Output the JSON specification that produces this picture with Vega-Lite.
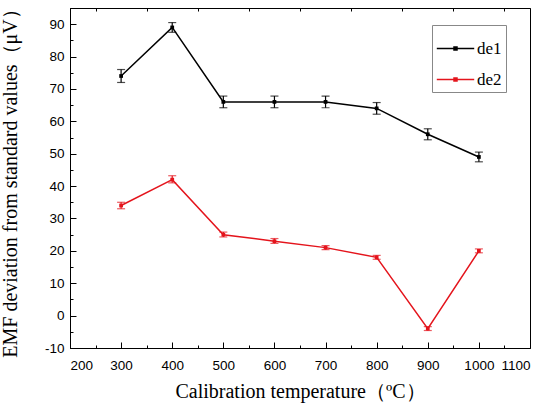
{
  "$schema": "https://vega.github.io/schema/vega-lite/v6.json",
  "width": 460,
  "height": 340,
  "autosize": {"type": "none"},
  "padding": {"left": 70, "top": 8, "right": 20, "bottom": 60},
  "background": "white",
  "data": {
    "values": [
      {"T": 300, "series": "de1", "v": 74, "lo": 72, "hi": 76},
      {"T": 400, "series": "de1", "v": 89, "lo": 87.5, "hi": 90.5},
      {"T": 500, "series": "de1", "v": 66, "lo": 64.2, "hi": 67.8},
      {"T": 600, "series": "de1", "v": 66, "lo": 64.2, "hi": 67.8},
      {"T": 700, "series": "de1", "v": 66, "lo": 64.2, "hi": 67.8},
      {"T": 800, "series": "de1", "v": 64, "lo": 62.2, "hi": 65.8},
      {"T": 900, "series": "de1", "v": 56, "lo": 54.3, "hi": 57.7},
      {"T": 1000, "series": "de1", "v": 49, "lo": 47.5, "hi": 50.5},
      {"T": 300, "series": "de2", "v": 34, "lo": 33, "hi": 35},
      {"T": 400, "series": "de2", "v": 42, "lo": 41, "hi": 43.2},
      {"T": 500, "series": "de2", "v": 25, "lo": 24.3, "hi": 25.8},
      {"T": 600, "series": "de2", "v": 23, "lo": 22.3, "hi": 23.8},
      {"T": 700, "series": "de2", "v": 21, "lo": 20.4, "hi": 21.6},
      {"T": 800, "series": "de2", "v": 18, "lo": 17.4, "hi": 18.6},
      {"T": 900, "series": "de2", "v": -4, "lo": -4.6, "hi": -3.4},
      {"T": 1000, "series": "de2", "v": 20, "lo": 19.4, "hi": 20.6}
    ]
  },
  "resolve": {"axis": {"x": "independent", "y": "independent"}},
  "layer": [
    {
      "mark": {"type": "line", "strokeWidth": 1.5},
      "encoding": {
        "x": {
          "field": "T", "type": "quantitative",
          "scale": {"domain": [200, 1100], "nice": false, "zero": false},
          "axis": {
            "orient": "bottom",
            "title": "Calibration temperature（ºC）",
            "values": [200, 250, 300, 350, 400, 450, 500, 550, 600, 650, 700, 750, 800, 850, 900, 950, 1000, 1050, 1100],
            "labelExpr": "datum.value % 100 === 0 ? datum.value : ''",
            "tickSize": {"condition": {"test": "datum.value % 100 === 0", "value": -6}, "value": -3},
            "labelPadding": 16,
            "titlePadding": 10
          }
        },
        "y": {
          "field": "v", "type": "quantitative",
          "scale": {"domain": [-10, 95], "nice": false, "zero": false},
          "axis": {
            "orient": "left",
            "title": "EMF deviation from standard values（μV）",
            "values": [-10, -5, 0, 5, 10, 15, 20, 25, 30, 35, 40, 45, 50, 55, 60, 65, 70, 75, 80, 85, 90, 95],
            "labelExpr": "datum.value % 10 === 0 ? datum.value : ''",
            "tickSize": {"condition": {"test": "datum.value % 10 === 0", "value": -6}, "value": -3},
            "labelPadding": 12,
            "titlePadding": 24
          }
        },
        "color": {
          "field": "series", "type": "nominal",
          "scale": {"domain": ["de1", "de2"], "range": ["#000000", "#e4141c"]},
          "legend": {
            "orient": "none",
            "legendX": 362,
            "legendY": 17,
            "title": null,
            "symbolType": "M-1,0H1M-0.08,-0.08H0.08V0.08H-0.08Z",
            "symbolSize": 1400,
            "symbolStrokeWidth": 1.5,
            "labelFont": "Liberation Serif",
            "labelFontSize": 17,
            "labelColor": "#000000",
            "labelOffset": 2,
            "strokeColor": "#888888",
            "fillColor": "white",
            "padding": 4,
            "rowPadding": 3
          }
        }
      }
    },
    {
      "mark": {"type": "point", "shape": "square", "filled": true, "size": 14, "opacity": 1},
      "encoding": {
        "x": {
          "field": "T", "type": "quantitative",
          "axis": {
            "orient": "top", "title": null, "labels": false,
            "values": [250, 350, 450, 550, 650, 750, 850, 950, 1050],
            "tickSize": -3
          }
        },
        "y": {"field": "v", "type": "quantitative", "axis": null},
        "color": {"field": "series", "type": "nominal", "legend": null}
      }
    },
    {
      "mark": {"type": "errorbar", "ticks": {"size": 8}, "thickness": 1.2},
      "encoding": {
        "x": {"field": "T", "type": "quantitative", "axis": null},
        "y": {"field": "lo", "type": "quantitative", "axis": null},
        "y2": {"field": "hi"},
        "color": {"field": "series", "type": "nominal", "legend": null}
      }
    }
  ],
  "config": {
    "view": {"stroke": "#000000", "strokeWidth": 1},
    "axis": {
      "grid": false,
      "domainColor": "#000000",
      "tickColor": "#000000",
      "labelColor": "#000000",
      "titleColor": "#000000",
      "labelFont": "Liberation Sans",
      "labelFontSize": 13.5,
      "titleFont": "Liberation Serif",
      "titleFontSize": 20,
      "titleFontWeight": "normal"
    }
  }
}
